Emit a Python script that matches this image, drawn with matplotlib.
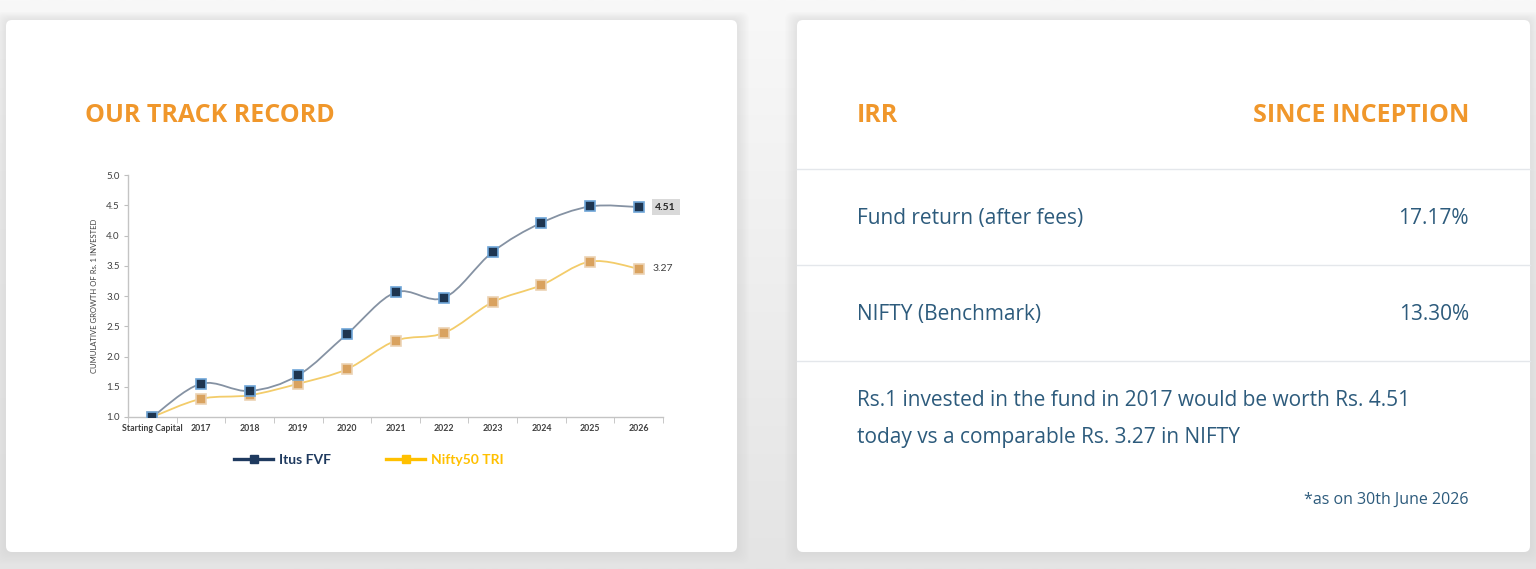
import numpy as np
import matplotlib
matplotlib.use("Agg")
import matplotlib.pyplot as plt
from matplotlib.patches import FancyBboxPatch, PathPatch
from matplotlib.path import Path
from matplotlib.lines import Line2D

# data
categories = ["Starting Capital", "2017", "2018", "2019", "2020", "2021",
              "2022", "2023", "2024", "2025", "2026"]
itus_fvf = [1.00, 1.55, 1.43, 1.69, 2.37, 3.06, 2.97, 3.73, 4.21, 4.48, 4.47]
nifty50_tri = [1.00, 1.30, 1.36, 1.55, 1.79, 2.26, 2.39, 2.90, 3.18, 3.57, 3.45]
y_ticks = [1.0, 1.5, 2.0, 2.5, 3.0, 3.5, 4.0, 4.5, 5.0]
itus_label = "4.51"
nifty_label = "3.27"
irr_rows = [("Fund return (after fees)", "17.17%"), ("NIFTY (Benchmark)", "13.30%")]

W, H = 1536, 569
ORANGE = "#f0972b"
TEXT = "#2d5b7c"

fig = plt.figure(figsize=(W / 100, H / 100), dpi=100)

# page background with soft vertical gradient
bg = fig.add_axes([0, 0, 1, 1])
bg.set_xlim(0, W)
bg.set_ylim(H, 0)
bg.axis("off")
grad = np.linspace(0, 1, 200)[:, None]
bg.imshow(grad, extent=(0, W, H, 0), cmap=matplotlib.colors.LinearSegmentedColormap.from_list(
    "g", ["#f8f8f8", "#eeeeee", "#e4e4e4"]), aspect="auto", zorder=0)


def card(x0, y0, x1, y1):
    # soft shadow
    for i in range(10, 0, -1):
        bg.add_patch(FancyBboxPatch((x0 - i * 1.2, y0 - i * 0.8), x1 - x0 + i * 2.4, y1 - y0 + i * 2.0,
                                    boxstyle="round,pad=0,rounding_size=8",
                                    fc="#c8c8c8", ec="none", alpha=0.035, zorder=1))
    bg.add_patch(FancyBboxPatch((x0, y0), x1 - x0, y1 - y0,
                                boxstyle="round,pad=0,rounding_size=6",
                                fc="white", ec="none", zorder=2))


card(6, 20, 737, 552)
card(797, 20, 1530, 552)

# left card heading
bg.text(85, 115, "OUR TRACK RECORD", color=ORANGE, fontsize=18, fontweight="bold",
        family="Open Sans", va="center", ha="left", zorder=3)

# right card
bg.text(857, 115, "IRR", color=ORANGE, fontsize=18, fontweight="bold",
        family="Open Sans", va="center", ha="left", zorder=3)
bg.text(1469, 115, "SINCE INCEPTION", color=ORANGE, fontsize=18, fontweight="bold",
        family="Open Sans", va="center", ha="right", zorder=3)
for yy in [169, 265, 361]:
    bg.plot([797, 1530], [yy, yy], color="#e4e7eb", lw=1, zorder=3)
for (name, val), yy in zip(irr_rows, [218, 314]):
    bg.text(857, yy, name, color=TEXT, fontsize=15, family="Open Sans", va="center", ha="left", zorder=3)
    bg.text(1469, yy, val, color=TEXT, fontsize=15, family="Open Sans", va="center", ha="right", zorder=3)
bg.text(857, 400, "Rs.1 invested in the fund in 2017 would be worth Rs. " + itus_label,
        color=TEXT, fontsize=15, family="Open Sans", va="center", ha="left", zorder=3)
bg.text(857, 437, "today vs a comparable Rs. " + nifty_label + " in NIFTY",
        color=TEXT, fontsize=15, family="Open Sans", va="center", ha="left", zorder=3)
bg.text(1469, 500, "*as on 30th June 2026", color=TEXT, fontsize=11.5, family="Open Sans",
        va="center", ha="right", zorder=3)

# chart axes (pixel box 128..663 x 175..417)
ax = fig.add_axes([128 / W, 1 - 417 / H, (663 - 128) / W, (417 - 175) / H])
ax.patch.set_alpha(0)
x = np.arange(len(categories))


def smooth_path(xs, ys):
    # Catmull-Rom style bezier through the points
    pts = np.column_stack([xs, ys]).astype(float)
    verts = [pts[0]]
    codes = [Path.MOVETO]
    n = len(pts)
    for i in range(n - 1):
        p0 = pts[max(i - 1, 0)]
        p1 = pts[i]
        p2 = pts[i + 1]
        p3 = pts[min(i + 2, n - 1)]
        c1 = p1 + (p2 - p0) / 6.0
        c2 = p2 - (p3 - p1) / 6.0
        verts += [c1, c2, p2]
        codes += [Path.CURVE4] * 3
    return Path(verts, codes)


ax.add_patch(PathPatch(smooth_path(x, nifty50_tri), fc="none", ec="#f3cc6a", lw=1.3, zorder=2))
ax.add_patch(PathPatch(smooth_path(x, itus_fvf), fc="none", ec="#8592a3", lw=1.3, zorder=2))
ax.plot(x, nifty50_tri, ls="none", marker="s", ms=7, mfc="#d9a25f", mec="#ecd3b4", mew=1.2, zorder=3)
ax.plot(x, itus_fvf, ls="none", marker="s", ms=7, mfc="#1e3550", mec="#6fa6d8", mew=1.2, zorder=4)

ax.set_xlim(-0.5, len(categories) - 0.5)
ax.set_ylim(1.0, 5.0)
ax.set_yticks(y_ticks)
ax.set_yticklabels([f"{v:.1f}" for v in y_ticks], fontsize=7, family="Lato", color="#404040")
ax.set_xticks(x)
ax.set_xticklabels(categories, fontsize=6.3, family="Lato", color="#404040", fontweight="bold")
ax.set_xticks(np.arange(len(categories) + 1) - 0.5, minor=True)
ax.tick_params(axis="x", which="major", length=0, pad=5)
ax.tick_params(axis="x", which="minor", length=4, color="#bfbfbf", direction="out")
ax.tick_params(axis="y", length=3, color="#bfbfbf", pad=3)
for s in ["top", "right"]:
    ax.spines[s].set_visible(False)
for s in ["left", "bottom"]:
    ax.spines[s].set_color("#c4c4c4")
    ax.spines[s].set_linewidth(1)
ax.set_ylabel("CUMULATIVE GROWTH OF Rs. 1 INVESTED", fontsize=5.5, family="Lato",
              color="#404040", labelpad=6)

# end labels
ax.annotate(itus_label, (x[-1], itus_fvf[-1]), xytext=(12, 0), textcoords="offset points",
            va="center", ha="left", fontsize=7.5, fontweight="bold", family="Lato", color="#262626",
            bbox=dict(boxstyle="square,pad=0.35", fc="#d9d9d9", ec="none"))
ax.annotate(nifty_label, (x[-1], nifty50_tri[-1]), xytext=(10, 0), textcoords="offset points",
            va="center", ha="left", fontsize=7.5, family="Lato", color="#404040")

# legend
handles = [Line2D([], [], color="#1f3a5f", lw=2.4, marker="s", ms=5.5, mfc="#1f3a5f", mec="#1f3a5f"),
           Line2D([], [], color="#ffc000", lw=2.4, marker="s", ms=5.5, mfc="#ffc000", mec="#ffc000")]
leg = ax.legend(handles, ["Itus FVF", "Nifty50 TRI"], loc="upper center", bbox_to_anchor=(0.45, -0.1),
                ncol=2, frameon=False, handlelength=2.8, columnspacing=4.0, handletextpad=0.4,
                prop={"family": "Lato", "weight": "bold", "size": 10})
for t, c in zip(leg.get_texts(), ["#1f3a5f", "#ffc000"]):
    t.set_color(c)

fig.savefig("out.png", dpi=100)
